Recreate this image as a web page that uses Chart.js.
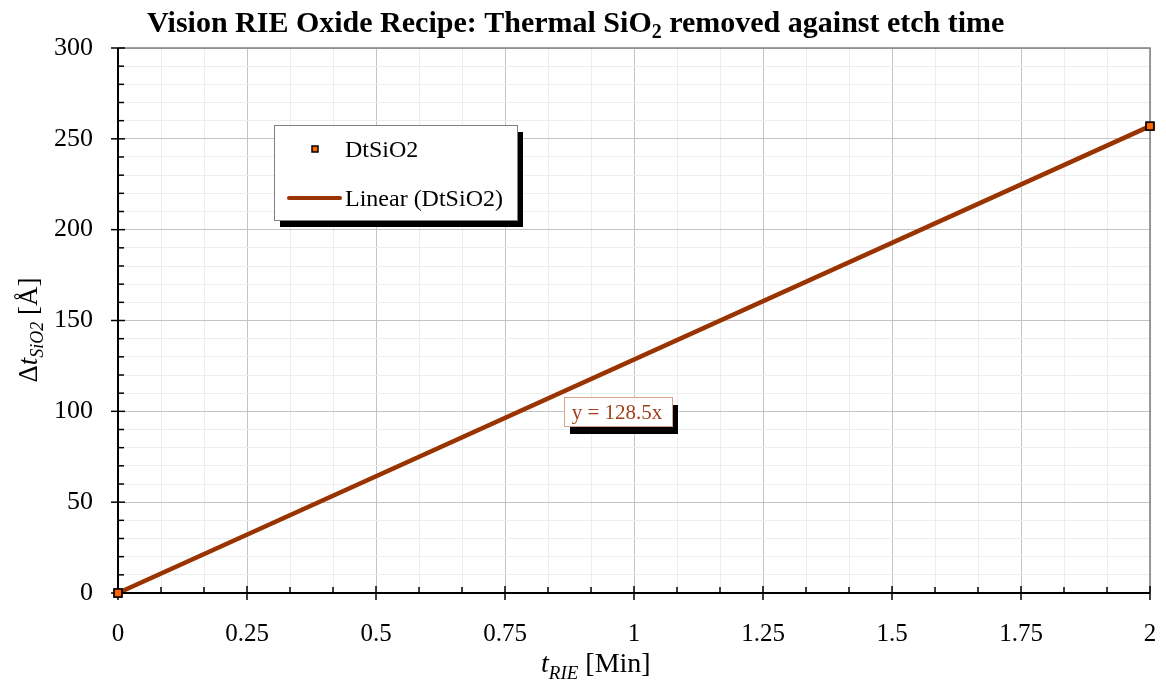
<!DOCTYPE html>
<html>
<head>
<meta charset="utf-8">
<script src="https://cdn.jsdelivr.net/npm/chart.js@4.4.1/dist/chart.umd.min.js"></script>
<style>
  html, body { margin: 0; padding: 0; background: #ffffff; }
  canvas { display: block; }
</style>
</head>
<body>
<canvas id="etchChart" width="1166" height="686"></canvas>
<script>
// dados
const etchTimes = [0, 2];           // t_RIE [Min]
const removedSiO2 = [0, 257];       // Δt SiO2 [Å]
const trendTimes = [0, 2];
const trendValues = [0, 257];       // linha de tendência y = 128.5x
const trendLabel = 'y = 128.5x';
const xTickLabels = ['0', '0.25', '0.5', '0.75', '1', '1.25', '1.5', '1.75', '2'];
const yTickLabels = ['0', '50', '100', '150', '200', '250', '300'];

const SERIF = '"Liberation Serif", "Times New Roman", serif';
const LINE_COLOR = '#993300';

// desenha texto com partes (subscritos, itálico)
function drawRuns(ctx, runs, x, y, align) {
    let total = 0;
    runs.forEach(r => { ctx.font = r.font; r.w = ctx.measureText(r.text).width; total += r.w; });
    let cx = align === 'center' ? x - total / 2 : x;
    runs.forEach(r => {
        ctx.font = r.font;
        ctx.fillText(r.text, cx, y + (r.dy || 0));
        cx += r.w;
    });
}

const decorPlugin = {
    id: 'decor',
    afterDraw(chart) {
        const ctx = chart.ctx;
        const a = chart.chartArea;
        const xs = chart.scales.x, ys = chart.scales.y;
        ctx.save();

        // moldura do gráfico
        ctx.strokeStyle = '#808080';
        ctx.lineWidth = 1.5;
        ctx.beginPath();
        ctx.moveTo(a.left, a.top); ctx.lineTo(a.right, a.top); ctx.lineTo(a.right, a.bottom);
        ctx.stroke();
        ctx.strokeStyle = '#000';
        ctx.lineWidth = 2;
        ctx.beginPath();
        ctx.moveTo(a.left, a.top); ctx.lineTo(a.left, a.bottom); ctx.lineTo(a.right, a.bottom);
        ctx.stroke();

        // marcas dos eixos
        ctx.lineWidth = 1.5;
        ys.ticks.forEach(t => {
            const py = ys.getPixelForValue(t.value);
            const major = Math.abs(t.value % 50) < 1e-6;
            ctx.beginPath();
            ctx.moveTo(major ? a.left - 7 : a.left, py);
            ctx.lineTo(a.left + (major ? 7 : 6), py);
            ctx.stroke();
        });
        xs.ticks.forEach(t => {
            const px = xs.getPixelForValue(t.value);
            const major = Math.abs(t.value * 4 - Math.round(t.value * 4)) < 1e-6;
            ctx.beginPath();
            ctx.moveTo(px, major ? a.bottom + 7 : a.bottom);
            ctx.lineTo(px, a.bottom - (major ? 7 : 6));
            ctx.stroke();
        });

        // redesenha os pontos por cima da moldura
        chart.getDatasetMeta(0).data.forEach(p => p.draw(ctx));

        // título
        ctx.fillStyle = '#000';
        ctx.textBaseline = 'alphabetic';
        drawRuns(ctx, [
            { text: 'Vision RIE Oxide Recipe: Thermal SiO', font: 'bold 30px ' + SERIF },
            { text: '2', font: 'bold 20px ' + SERIF, dy: 6 },
            { text: ' removed against etch time', font: 'bold 30px ' + SERIF }
        ], 147, 32, 'left');

        // título eixo x
        drawRuns(ctx, [
            { text: 't', font: 'italic 28px ' + SERIF },
            { text: 'RIE', font: 'italic 19px ' + SERIF, dy: 7 },
            { text: ' [Min]', font: '28px ' + SERIF }
        ], 541, 672, 'left');

        // título eixo y
        ctx.save();
        ctx.translate(37, 330);
        ctx.rotate(-Math.PI / 2);
        drawRuns(ctx, [
            { text: 'Δ', font: '27px ' + SERIF },
            { text: 't', font: 'italic 27px ' + SERIF },
            { text: 'SiO2', font: 'italic 18px ' + SERIF, dy: 6 },
            { text: ' [Å]', font: '27px ' + SERIF }
        ], 0, 0, 'center');
        ctx.restore();

        // legenda
        const lx = 274, ly = 125, lw = 243, lh = 95;
        ctx.fillStyle = '#000';
        ctx.fillRect(lx + 6, ly + 7, lw, lh);
        ctx.fillStyle = '#fff';
        ctx.fillRect(lx, ly, lw, lh);
        ctx.strokeStyle = '#808080';
        ctx.lineWidth = 1;
        ctx.strokeRect(lx + 0.5, ly + 0.5, lw, lh);

        ctx.fillStyle = '#ff6600';
        ctx.fillRect(312, 146, 6, 6);
        ctx.strokeStyle = '#000';
        ctx.lineWidth = 1.5;
        ctx.strokeRect(312, 146, 6, 6);

        ctx.strokeStyle = LINE_COLOR;
        ctx.lineWidth = 4;
        ctx.lineCap = 'round';
        ctx.beginPath();
        ctx.moveTo(289, 198); ctx.lineTo(340, 198);
        ctx.stroke();

        ctx.fillStyle = '#000';
        ctx.font = '24px ' + SERIF;
        ctx.fillText(chart.data.datasets[0].label, 345, 157);
        ctx.fillText(chart.data.datasets[1].label, 345, 206);

        // equação da tendência
        const ex = 564, ey = 397, ew = 108, eh = 29;
        ctx.fillStyle = '#000';
        ctx.fillRect(ex + 6, ey + 8, ew, eh);
        ctx.fillStyle = '#fff';
        ctx.fillRect(ex, ey, ew, eh);
        ctx.strokeStyle = '#d9a38a';
        ctx.lineWidth = 1;
        ctx.strokeRect(ex + 0.5, ey + 0.5, ew, eh);
        ctx.fillStyle = '#a0401a';
        ctx.font = '21px ' + SERIF;
        ctx.textAlign = 'center';
        ctx.fillText(trendLabel, ex + ew / 2 - 1, ey + 22);

        ctx.restore();
    }
};

const ctx = document.getElementById('etchChart').getContext('2d');

let etchChart = new Chart(ctx, {
    type: 'scatter',
    data: {
        datasets: [{
            label: 'DtSiO2',
            data: etchTimes.map((t, i) => ({ x: t, y: removedSiO2[i] })),
            showLine: false,
            pointStyle: 'rect',
            pointRadius: 5.5,
            backgroundColor: '#ff6600',
            borderColor: '#000000',
            borderWidth: 1.5,
            clip: false,
            order: 0
        }, {
            label: 'Linear (DtSiO2)',
            data: trendTimes.map((t, i) => ({ x: t, y: trendValues[i] })),
            showLine: true,
            borderColor: LINE_COLOR,
            borderWidth: 4.5,
            pointRadius: 0,
            clip: false,
            order: 1
        }]
    },
    options: {
        responsive: false,
        devicePixelRatio: 1,
        animation: false,
        layout: { padding: { top: 48, right: 16, left: 0, bottom: 0 } },
        plugins: {
            legend: { display: false },
            title: { display: false },
            tooltip: { enabled: false }
        },
        scales: {
            x: {
                type: 'linear',
                min: 0,
                max: 2,
                afterBuildTicks: s => {
                    const t = [];
                    for (let i = 0; i <= 24; i++) t.push({ value: i / 12 });
                    s.ticks = t;
                },
                afterFit: s => { s.height = 93; s.paddingLeft = 0; s.paddingRight = 0; },
                border: { display: false },
                grid: {
                    drawTicks: false,
                    color: c => (Math.abs(c.tick.value * 4 - Math.round(c.tick.value * 4)) < 1e-6 ? '#c4c4c4' : '#ededed'),
                    lineWidth: 1
                },
                ticks: {
                    autoSkip: false,
                    maxRotation: 0,
                    padding: 26,
                    color: '#000',
                    font: { family: SERIF, size: 25 },
                    callback: v => {
                        const q = v * 4;
                        return Math.abs(q - Math.round(q)) < 1e-6 ? xTickLabels[Math.round(q)] : '';
                    }
                }
            },
            y: {
                min: 0,
                max: 300,
                afterBuildTicks: s => {
                    const t = [];
                    for (let v = 0; v <= 300; v += 10) t.push({ value: v });
                    s.ticks = t;
                },
                afterFit: s => { s.width = 118; s.paddingTop = 0; s.paddingBottom = 0; },
                border: { display: false },
                grid: {
                    drawTicks: false,
                    color: c => (c.tick.value % 50 === 0 ? '#c4c4c4' : '#ededed'),
                    lineWidth: 1
                },
                ticks: {
                    autoSkip: false,
                    padding: 25,
                    color: '#000',
                    font: { family: SERIF, size: 26 },
                    callback: v => (v % 50 === 0 ? yTickLabels[v / 50] : '')
                }
            }
        }
    },
    plugins: [decorPlugin]
});
</script>
</body>
</html>
